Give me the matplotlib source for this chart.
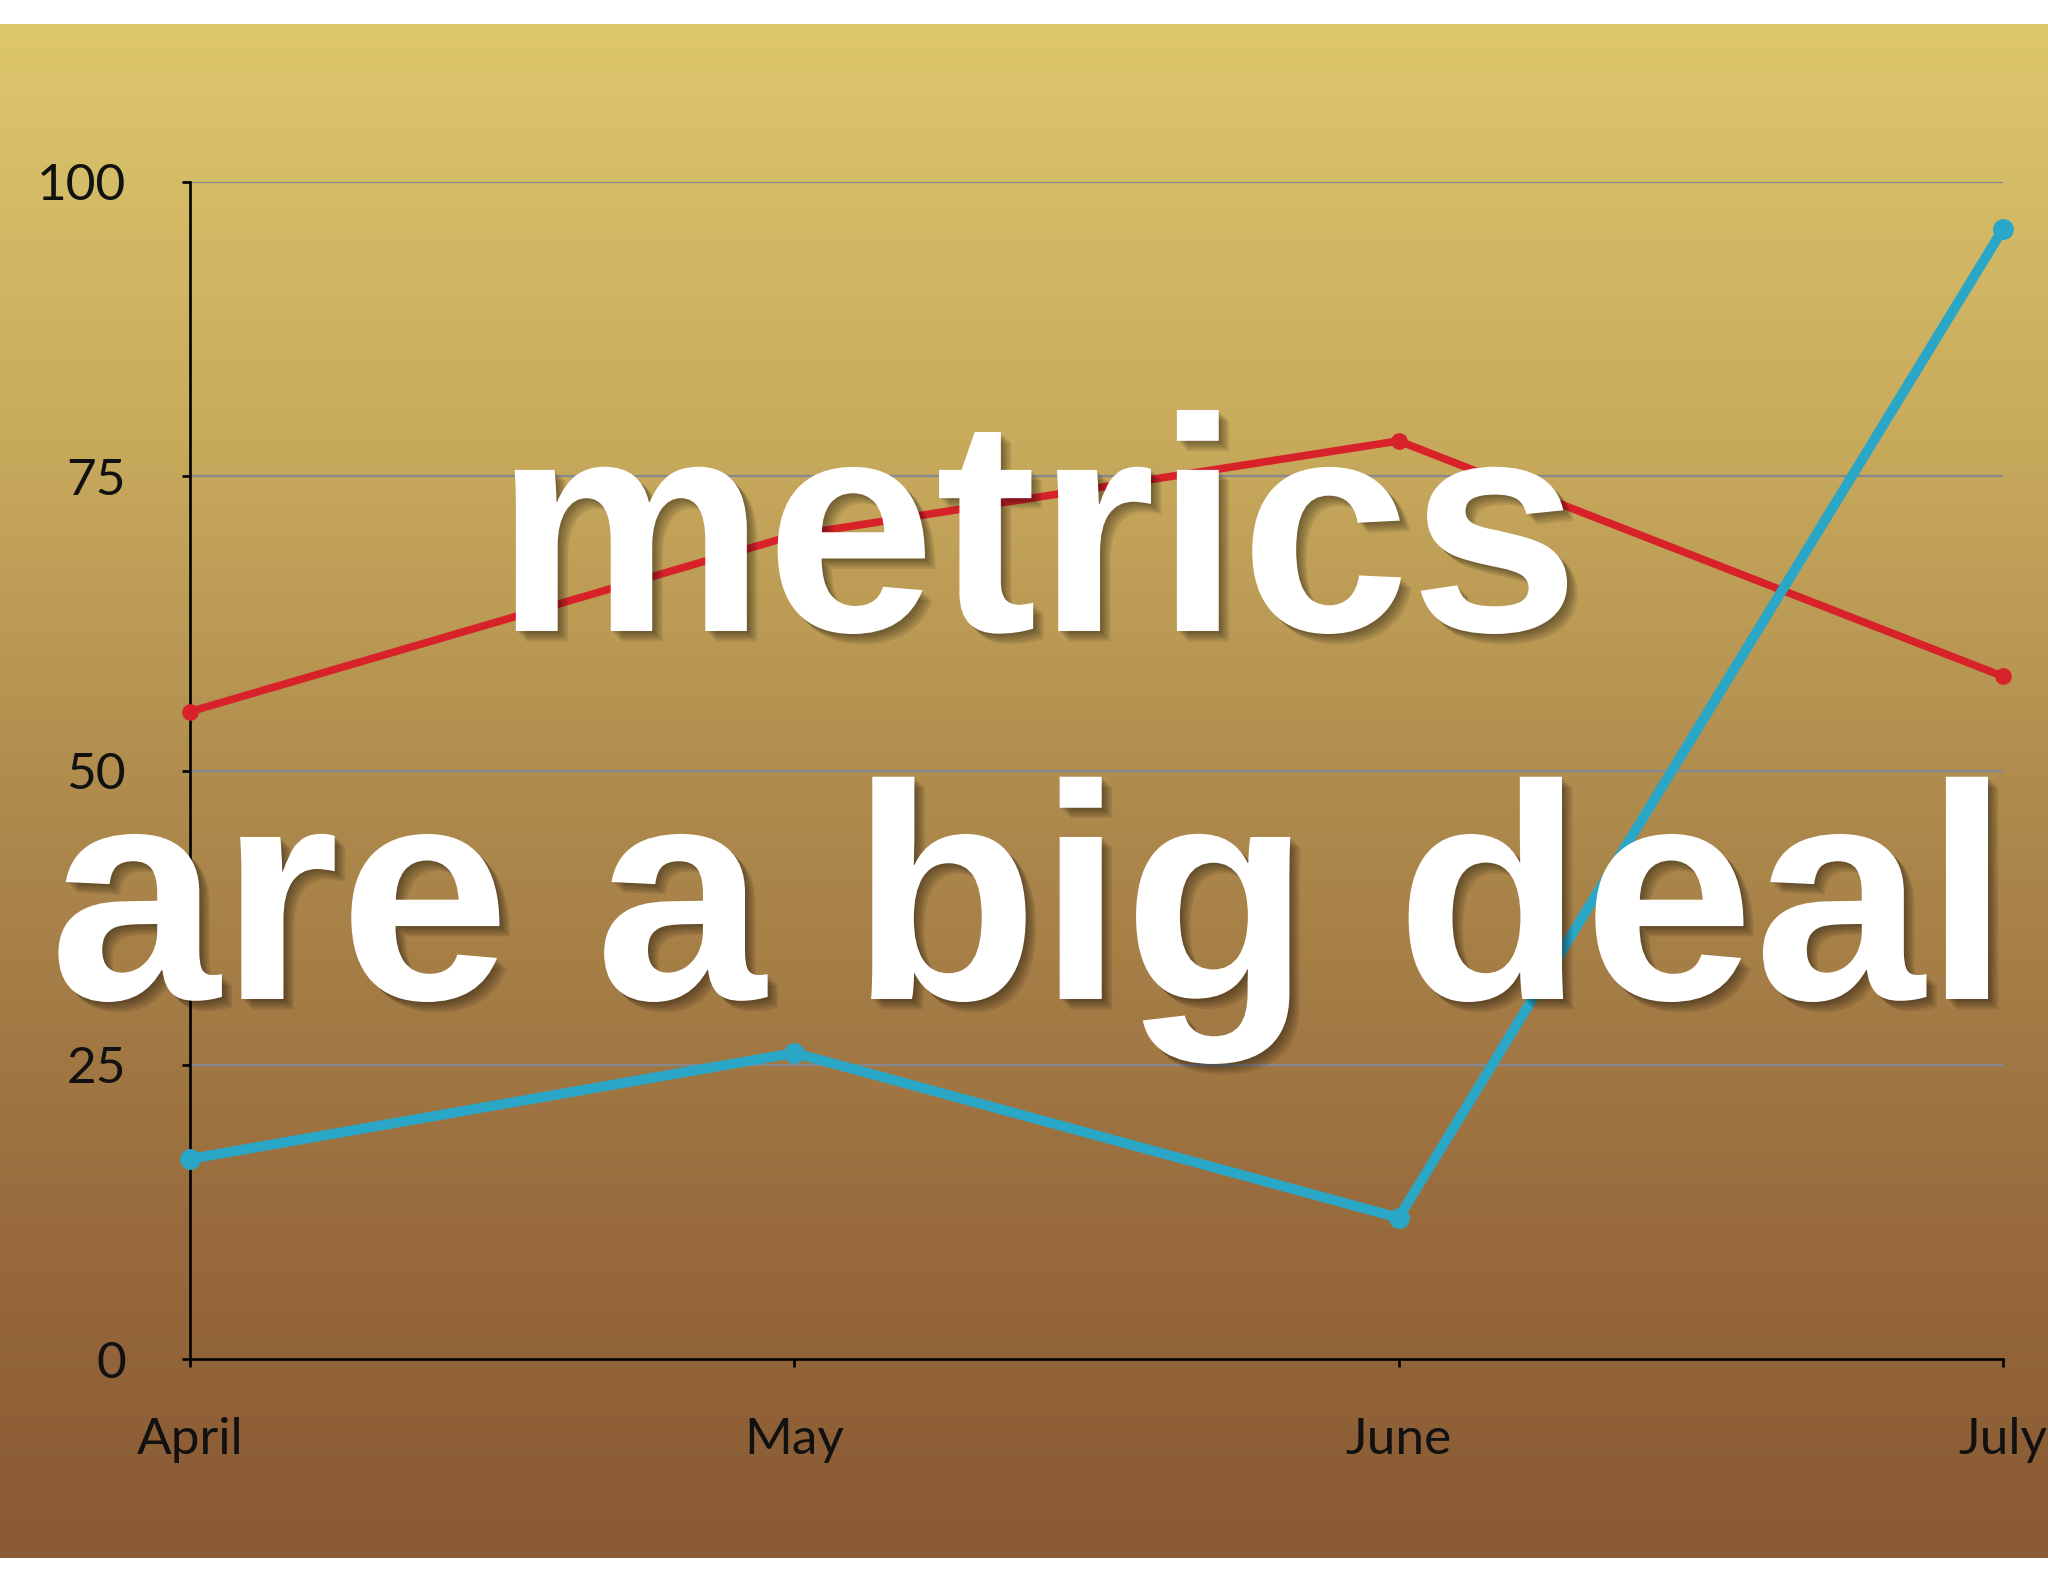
import matplotlib
matplotlib.use("Agg")
import matplotlib.pyplot as plt
import matplotlib.patheffects as pe
from matplotlib.colors import LinearSegmentedColormap
import numpy as np

months = ["April", "May", "June", "July"]
red_vals = [55, 70, 78, 58]
blue_vals = [17, 26, 12, 96]
yticks = [0, 25, 50, 75, 100]
line1 = "metrics"
line2 = "are a big deal"

W, H = 2048, 1582
fig = plt.figure(figsize=(W / 100, H / 100), dpi=100, facecolor="white")

# gradient backdrop between the white strips
bg = fig.add_axes([0, 24 / H, 1, (1558 - 24) / H])
bg.set_axis_off()
cmap = LinearSegmentedColormap.from_list(
    "gold", [(0.0, "#ddc76c"), (0.28, "#c7a95c"), (0.52, "#ad894c"),
             (0.8, "#97693c"), (1.0, "#895a33")])
grad = np.linspace(0, 1, 256).reshape(-1, 1)
bg.imshow(grad, aspect="auto", cmap=cmap, extent=[0, 1, 0, 1], origin="upper")

ax = fig.add_axes([190 / W, (H - 1359) / H, (2003 - 190) / W, (1359 - 182) / H])
ax.patch.set_alpha(0)
x = np.arange(len(months))
ax.plot(x, red_vals, color="#d8222a", lw=5.5, marker="o", ms=11, clip_on=False, zorder=3)
ax.plot(x, blue_vals, color="#2aa6c6", lw=7.2, marker="o", ms=14, clip_on=False, zorder=3)

ax.set_xlim(0, len(months) - 1)
ax.set_ylim(0, 100)
ax.set_yticks(yticks)
ax.set_xticks(x)
ax.set_xticklabels(months)
for y in yticks[1:]:
    ax.axhline(y, color="#868a90", lw=1.6, zorder=1)
for s in ["top", "right"]:
    ax.spines[s].set_visible(False)
for s in ["left", "bottom"]:
    ax.spines[s].set_linewidth(1.9)
    ax.spines[s].set_color("black")
ax.tick_params(axis="y", direction="out", length=6, width=1.9, pad=40,
               labelsize=37, labelcolor="#111111")
ax.tick_params(axis="x", direction="out", length=6, width=1.9, pad=36,
               labelsize=37, labelcolor="#111111")
for lab in ax.get_xticklabels() + ax.get_yticklabels():
    lab.set_family("Lato")

shadow = [pe.SimplePatchShadow(offset=(d, -d), shadow_rgbFace="black", alpha=0.09)
          for d in (1.5, 3, 4.5, 6, 7.5)] + [pe.Normal()]

fig.canvas.draw()
renderer = fig.canvas.get_renderer()


def big_text(s, cx, base_y, width_px):
    t = fig.text(cx / W, (H - base_y) / H, s, ha="center", va="baseline",
                 color="white", family="Liberation Sans", weight="bold",
                 fontsize=200, path_effects=shadow, zorder=5)
    w = t.get_window_extent(renderer).width
    t.set_fontsize(200 * width_px / w)
    return t


big_text(line1, 1037, 631, 1085)
big_text(line2, 1030, 999, 1960)

fig.savefig("out.png", dpi=100, facecolor="white")
